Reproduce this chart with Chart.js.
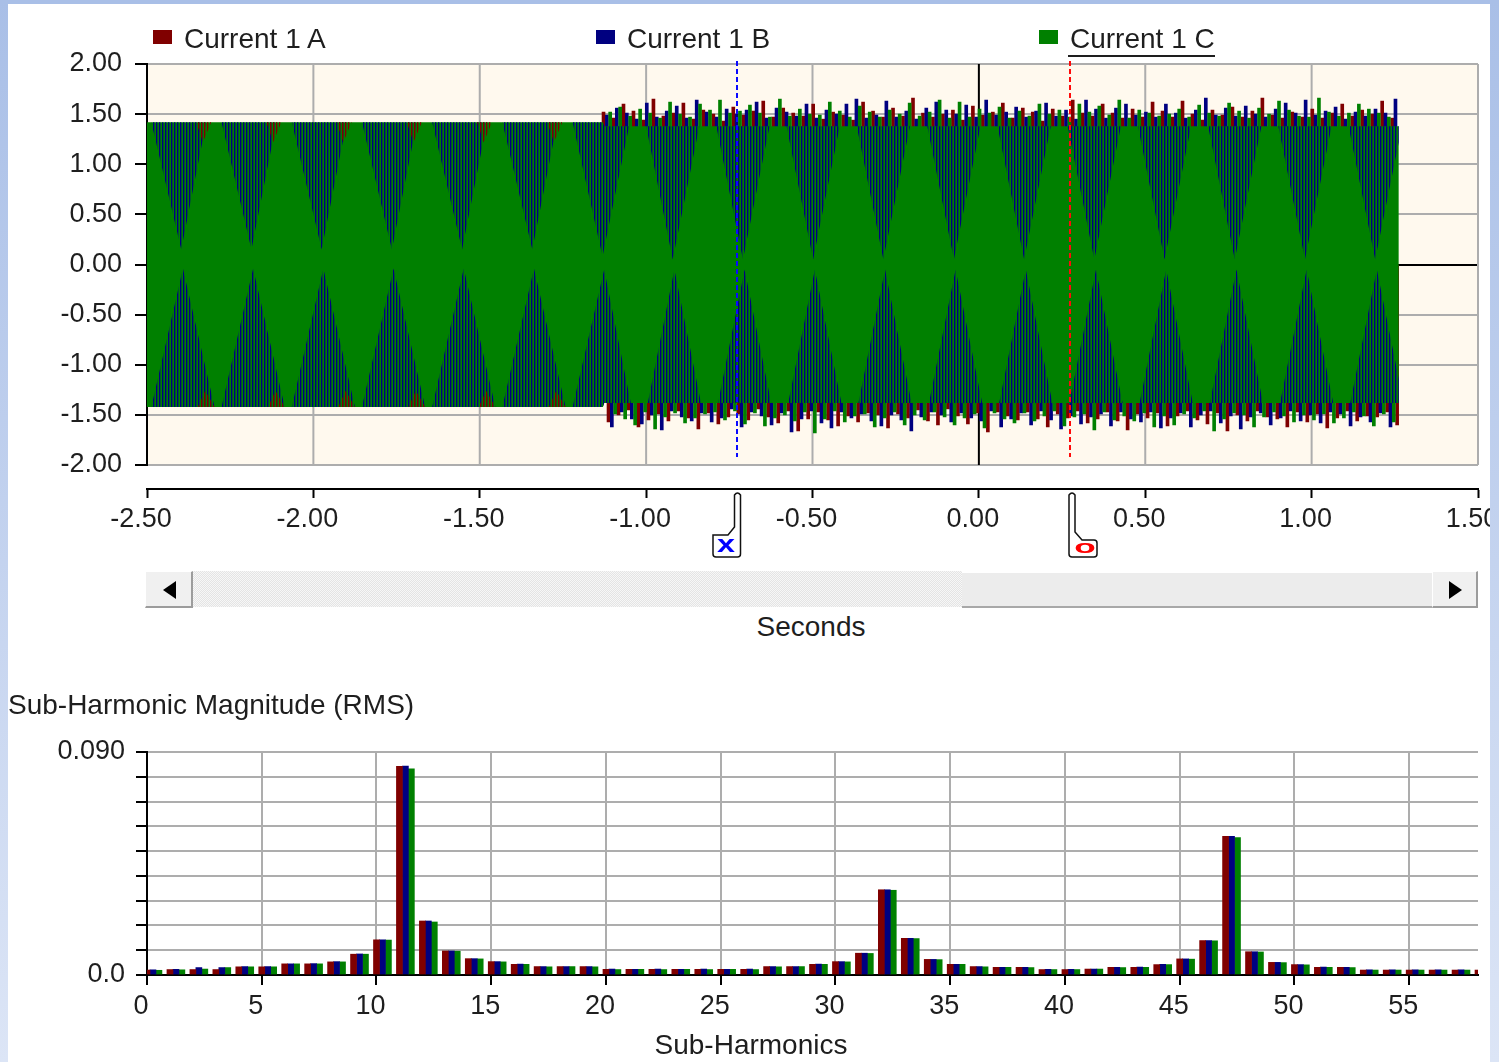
<!DOCTYPE html>
<html>
<head>
<meta charset="utf-8">
<title>Current 1 - waveform and sub-harmonics</title>
<script src="https://cdn.jsdelivr.net/npm/chart.js@4.4.1/dist/chart.umd.min.js"></script>
<style>
  html, body { margin: 0; padding: 0; width: 1499px; height: 1062px; overflow: hidden; background: #fff;
    font-family: "Liberation Sans", Arial, sans-serif; color: #1e1e1e; }
  canvas { position: absolute; left: 0; }
  #wave { top: 0; }
  #spec { top: 700px; }
  .txt { position: absolute; font-size: 28px; line-height: 28px; white-space: nowrap; }
  .sw { position: absolute; width: 19px; height: 14px; }
  .frame { position: absolute; z-index: 10; }
  .sb { position: absolute; box-sizing: border-box; }
</style>
</head>
<body>
<canvas id="wave" width="1580" height="564"></canvas>
<canvas id="spec" width="1580" height="362"></canvas>

<!-- legend -->
<div class="sw" style="left:153px;top:30px;background:#800000"></div>
<div class="txt" id="legA" style="left:184px;top:25px"></div>
<div class="sw" style="left:596px;top:30px;background:#000080"></div>
<div class="txt" id="legB" style="left:627px;top:25px"></div>
<div class="sw" style="left:1039px;top:30px;background:#008000"></div>
<div class="txt" id="legC" style="left:1068px;top:25px;padding:0 0 2px 2px;border-bottom:2px solid #1e1e1e"></div>

<!-- horizontal scroll bar under the time axis -->
<div class="sb" style="left:145px;top:571px;width:48px;height:37px;background:#f0f0f0;border-right:2px solid #9c9c9c;border-bottom:2px solid #9c9c9c;border-top:1px solid #fff;border-left:1px solid #fff">
  <div style="position:absolute;left:17px;top:9px;width:0;height:0;border-top:9px solid transparent;border-bottom:9px solid transparent;border-right:13px solid #000"></div>
</div>
<div class="sb" style="left:193px;top:571px;width:769px;height:36px;background-color:#f4f4f4;background-image:repeating-conic-gradient(#e4e4e4 0 25%, #f7f7f7 0 50%);background-size:2px 2px"></div>
<div class="sb" style="left:962px;top:573px;width:470px;height:35px;background:#ececec;border-bottom:2px solid #a8a8a8"></div>
<div class="sb" style="left:1432px;top:571px;width:46px;height:37px;background:#f0f0f0;border-right:2px solid #9c9c9c;border-bottom:2px solid #9c9c9c;border-top:1px solid #fff;border-left:1px solid #fff">
  <div style="position:absolute;left:16px;top:9px;width:0;height:0;border-top:9px solid transparent;border-bottom:9px solid transparent;border-left:13px solid #000"></div>
</div>

<div class="txt" id="waveXTitle" style="left:661px;top:613px;width:300px;text-align:center"></div>
<div class="txt" id="specTitle" style="left:8px;top:691px"></div>
<div class="txt" id="specXTitle" style="left:601px;top:1031px;width:300px;text-align:center"></div>

<!-- window frame -->
<div class="frame" style="left:0;top:0;width:8px;height:1062px;background:linear-gradient(#a9bfe7,#dce5f6)"></div>
<div class="frame" style="left:1490px;top:0;width:9px;height:1062px;background:linear-gradient(#a9bfe7,#dce5f6)"></div>
<div class="frame" style="left:0;top:0;width:1499px;height:4px;background:#a9bfe7"></div>

<script>
// ---------------- captions ----------------
const legendLabels = ['Current 1 A', 'Current 1 B', 'Current 1 C'];
const waveAxisTitle = 'Seconds';
const spectrumTitle = 'Sub-Harmonic Magnitude (RMS)';
const spectrumAxisTitle = 'Sub-Harmonics';

// ---------------- waveform (per-unit current vs. seconds) ----------------
const timeTicks = [-2.5, -2.0, -1.5, -1.0, -0.5, 0.0, 0.5, 1.0, 1.5];
const ampTicks  = [-2.0, -1.5, -1.0, -0.5, 0.0, 0.5, 1.0, 1.5, 2.0];

// phase C band: steady part, then the disturbed part
const bandTime  = [-2.5, -1.130, -1.126, 1.262];
const bandUpper = [1.42, 1.42, 1.38, 1.38];
const bandLower = [-1.42, -1.42, -1.38, -1.38];

// phase B crossings showing through phase C (upper and lower halves)
const crossTopTime = [
  -2.487, -2.397, -2.322,  -2.276, -2.186, -2.111,  -2.065, -1.975, -1.900,
  -1.854, -1.764, -1.689,  -1.643, -1.553, -1.478,  -1.432, -1.342, -1.267,
  -1.221, -1.131, -1.051,  -1.000, -0.920, -0.840,  -0.789, -0.709, -0.629,
  -0.578, -0.498, -0.418,  -0.367, -0.287, -0.207,  -0.155, -0.075, 0.005,
   0.056,  0.136,  0.216,   0.267,  0.347,  0.427,   0.478,  0.558,  0.638,
   0.689,  0.769,  0.849,   0.900,  0.980,  1.060,   1.111,  1.191,  1.262
];
const crossTopValue = [
  1.42, 0.15, 1.42,  1.42, 0.15, 1.42,  1.42, 0.15, 1.42,
  1.42, 0.15, 1.42,  1.42, 0.15, 1.42,  1.42, 0.15, 1.42,
  1.42, 0.08, 1.38,  1.38, 0.05, 1.38,  1.38, 0.05, 1.38,
  1.38, 0.05, 1.38,  1.38, 0.05, 1.38,  1.38, 0.05, 1.38,
  1.38, 0.05, 1.38,  1.38, 0.05, 1.38,  1.38, 0.05, 1.38,
  1.38, 0.05, 1.38,  1.38, 0.05, 1.38,  1.38, 0.05, 1.22
];
const crossBottomTime = [
  -2.487, -2.392, -2.297,  -2.276, -2.181, -2.086,  -2.065, -1.970, -1.875,
  -1.854, -1.759, -1.664,  -1.643, -1.548, -1.453,  -1.432, -1.337, -1.242,
  -1.221, -1.126, -1.046,  -0.995, -0.915, -0.835,  -0.784, -0.704, -0.624,
  -0.573, -0.493, -0.413,  -0.362, -0.282, -0.202,  -0.150, -0.070, 0.010,
   0.061,  0.141,  0.221,   0.272,  0.352,  0.432,   0.483,  0.563,  0.643,
   0.694,  0.774,  0.854,   0.905,  0.985,  1.065,   1.116,  1.196,  1.262
];
const crossBottomValue = [
  -1.42, -0.04, -1.42,  -1.42, -0.04, -1.42,  -1.42, -0.04, -1.42,
  -1.42, -0.04, -1.42,  -1.42, -0.04, -1.42,  -1.42, -0.04, -1.42,
  -1.42, -0.05, -1.38,  -1.38, -0.05, -1.38,  -1.38, -0.05, -1.38,
  -1.38, -0.05, -1.38,  -1.38, -0.05, -1.38,  -1.38, -0.05, -1.38,
  -1.38, -0.05, -1.38,  -1.38, -0.05, -1.38,  -1.38, -0.05, -1.38,
  -1.38, -0.05, -1.38,  -1.38, -0.05, -1.38,  -1.38, -0.05, -1.14
];

// phase A peeking out at the band edges in the steady part
const edgeTopTime = [
  -2.352, -2.332, -2.307,  -2.141, -2.121, -2.096,  -1.930, -1.910, -1.885,
  -1.719, -1.699, -1.674,  -1.508, -1.488, -1.463,  -1.297, -1.277, -1.252
];
const edgeTopValue = [
  1.42, 1.22, 1.42,  1.42, 1.22, 1.42,  1.42, 1.22, 1.42,
  1.42, 1.22, 1.42,  1.42, 1.22, 1.42,  1.42, 1.22, 1.42
];
const edgeBottomTime = [
  -2.347, -2.325, -2.297,  -2.136, -2.114, -2.086,  -1.925, -1.903, -1.875,
  -1.714, -1.692, -1.664,  -1.503, -1.481, -1.453,  -1.292, -1.270, -1.242
];
const edgeBottomValue = [
  -1.42, -1.26, -1.42,  -1.42, -1.26, -1.42,  -1.42, -1.26, -1.42,
  -1.42, -1.26, -1.42,  -1.42, -1.26, -1.42,  -1.42, -1.26, -1.42
];

// disturbed part: successive sample peaks of each phase
const peakStep = 0.015;
const peakStartA = -1.128, peakStartB = -1.118, peakStartC = -1.108;
const peaksA = [
  1.52,-1.57,1.46,-1.50,1.60,-1.45,1.53,-1.62,1.44,-1.55,1.65,-1.49,1.48,-1.56,
  1.51,-1.46,1.61,-1.53,1.45,-1.64,1.54,-1.48,1.50,-1.59,1.43,-1.52,1.57,-1.49,
  1.49,-1.55,1.53,-1.44,1.63,-1.52,1.47,-1.58,1.56,-1.46,1.51,-1.66,1.48,-1.54,
  1.60,-1.47,1.45,-1.55,1.52,-1.61,1.49,-1.51,1.44,-1.57,1.62,-1.48,1.53,-1.50,
  1.47,-1.63,1.56,-1.49,1.48,-1.53,1.66,-1.45,1.51,-1.56,1.47,-1.60,1.50,-1.44,
  1.54,-1.51,1.44,-1.59,1.58,-1.48,1.49,-1.67,1.52,-1.47,1.61,-1.51,1.46,-1.55,
  1.56,-1.47,1.52,-1.54,1.43,-1.62,1.55,-1.49,1.48,-1.53,1.64,-1.46,1.51,-1.58,
  1.48,-1.54,1.60,-1.47,1.51,-1.56,1.46,-1.65,1.55,-1.49,1.47,-1.53,1.62,-1.48,
  1.53,-1.61,1.47,-1.51,1.63,-1.46,1.50,-1.55,1.44,-1.59,1.54,-1.48,1.49,-1.66,
  1.57,-1.50,1.47,-1.56,1.53,-1.46,1.66,-1.52,1.49,-1.54,1.46,-1.62,1.52,-1.47,
  1.47,-1.57,1.55,-1.49,1.46,-1.63,1.51,-1.53,1.60,-1.46,1.48,-1.56,1.54,-1.51,
  1.50,-1.52,1.63,-1.47,1.46,-1.60
];
const peaksB = [
  1.49,-1.62,1.56,-1.47,1.51,-1.54,1.45,-1.59,1.61,-1.50,1.47,-1.65,1.53,-1.46,
  1.58,-1.52,1.46,-1.56,1.64,-1.48,1.52,-1.57,1.47,-1.53,1.55,-1.44,1.50,-1.62,
  1.54,-1.47,1.62,-1.51,1.46,-1.60,1.56,-1.48,1.52,-1.67,1.48,-1.54,1.60,-1.46,
  1.46,-1.58,1.54,-1.63,1.50,-1.47,1.60,-1.53,1.65,-1.49,1.46,-1.56,1.49,-1.61,
  1.63,-1.50,1.47,-1.55,1.53,-1.66,1.45,-1.52,1.56,-1.47,1.62,-1.50,1.54,-1.57,
  1.50,-1.48,1.59,-1.53,1.47,-1.56,1.64,-1.46,1.49,-1.62,1.52,-1.54,1.57,-1.48,
  1.47,-1.60,1.53,-1.46,1.61,-1.55,1.48,-1.64,1.54,-1.51,1.45,-1.59,1.64,-1.52,
  1.55,-1.49,1.46,-1.61,1.56,-1.47,1.60,-1.54,1.49,-1.57,1.52,-1.47,1.47,-1.63,
  1.60,-1.53,1.51,-1.48,1.46,-1.62,1.54,-1.50,1.66,-1.46,1.49,-1.58,1.56,-1.51,
  1.48,-1.64,1.58,-1.52,1.50,-1.48,1.47,-1.60,1.55,-1.53,1.61,-1.46,1.51,-1.56,
  1.64,-1.50,1.49,-1.58,1.53,-1.47,1.57,-1.49,1.45,-1.61,1.52,-1.52,1.48,-1.57,
  1.55,-1.48,1.51,-1.62,1.65
];
const peaksC = [
  1.52,-1.49,1.57,-1.54,1.48,-1.60,1.55,-1.47,1.51,-1.64,1.46,-1.52,1.62,-1.48,
  1.50,-1.58,1.47,-1.53,1.60,-1.49,1.54,-1.47,1.64,-1.55,1.51,-1.46,1.53,-1.59,
  1.59,-1.48,1.51,-1.61,1.47,-1.53,1.65,-1.50,1.48,-1.56,1.55,-1.47,1.50,-1.68,
  1.49,-1.54,1.62,-1.46,1.53,-1.57,1.47,-1.51,1.58,-1.49,1.52,-1.62,1.47,-1.53,
  1.54,-1.47,1.50,-1.60,1.61,-1.50,1.48,-1.55,1.52,-1.47,1.64,-1.52,1.46,-1.60,
  1.62,-1.53,1.47,-1.49,1.55,-1.63,1.51,-1.48,1.57,-1.54,1.46,-1.58,1.53,-1.48,
  1.48,-1.56,1.60,-1.51,1.50,-1.46,1.54,-1.61,1.47,-1.52,1.60,-1.49,1.52,-1.65,
  1.58,-1.47,1.49,-1.55,1.64,-1.51,1.46,-1.56,1.54,-1.48,1.51,-1.62,1.48,-1.51,
  1.50,-1.60,1.55,-1.49,1.47,-1.53,1.59,-1.46,1.51,-1.66,1.48,-1.54,1.61,-1.48,
  1.53,-1.50,1.46,-1.62,1.56,-1.52,1.50,-1.47,1.63,-1.51,1.54,-1.57,1.48,-1.50,
  1.47,-1.55,1.66,-1.49,1.52,-1.58,1.48,-1.53,1.51,-1.47,1.60,-1.51,1.55,-1.61,
  1.51,-1.49,1.47,-1.57
];

// measurement cursors (seconds)
const cursorX = -0.728;
const cursorO = 0.274;

// ---------------- sub-harmonic spectrum ----------------
const harmonicTicks = [0, 5, 10, 15, 20, 25, 30, 35, 40, 45, 50, 55];
const magTicks = [0, 0.01, 0.02, 0.03, 0.04, 0.05, 0.06, 0.07, 0.08, 0.09];
const magTickLabels = ['0.0', '', '', '', '', '', '', '', '', '0.090'];
const subOrder = [
  0, 1, 2, 3, 4, 5, 6, 7, 8, 9, 10, 11, 12, 13, 14, 15, 16, 17, 18, 19,
  20, 21, 22, 23, 24, 25, 26, 27, 28, 29, 30, 31, 32, 33, 34, 35, 36, 37, 38, 39,
  40, 41, 42, 43, 44, 45, 46, 47, 48, 49, 50, 51, 52, 53, 54, 55, 56, 57, 58
];
const subA = [
  0.0020,0.0022,0.0022,0.0022,0.0033,0.0033,0.0045,0.0045,0.0053,0.0084,
  0.0142,0.0842,0.0218,0.0097,0.0066,0.0054,0.0043,0.0034,0.0034,0.0034,
  0.0023,0.0023,0.0023,0.0023,0.0023,0.0023,0.0023,0.0034,0.0034,0.0043,
  0.0054,0.0088,0.0344,0.0148,0.0063,0.0043,0.0034,0.0031,0.0031,0.0022,
  0.0022,0.0024,0.0031,0.0031,0.0042,0.0065,0.0139,0.0560,0.0094,0.0051,
  0.0042,0.0031,0.0031,0.0020,0.0020,0.0020,0.0020,0.0020,0.0020
];
const subB = [
  0.0021,0.0023,0.0030,0.0030,0.0034,0.0034,0.0045,0.0046,0.0054,0.0085,
  0.0142,0.0843,0.0218,0.0097,0.0066,0.0054,0.0044,0.0034,0.0034,0.0034,
  0.0024,0.0023,0.0024,0.0023,0.0024,0.0023,0.0024,0.0034,0.0034,0.0044,
  0.0054,0.0088,0.0344,0.0148,0.0063,0.0043,0.0034,0.0031,0.0031,0.0023,
  0.0023,0.0024,0.0031,0.0032,0.0043,0.0065,0.0139,0.0560,0.0094,0.0051,
  0.0042,0.0032,0.0031,0.0021,0.0021,0.0021,0.0021,0.0021,0.0021
];
const subC = [
  0.0019,0.0021,0.0024,0.0030,0.0033,0.0033,0.0045,0.0045,0.0053,0.0084,
  0.0141,0.0832,0.0214,0.0096,0.0065,0.0053,0.0043,0.0033,0.0034,0.0033,
  0.0022,0.0023,0.0022,0.0023,0.0022,0.0023,0.0022,0.0033,0.0034,0.0043,
  0.0053,0.0087,0.0342,0.0147,0.0062,0.0043,0.0033,0.0031,0.0030,0.0022,
  0.0022,0.0024,0.0030,0.0031,0.0042,0.0064,0.0138,0.0555,0.0093,0.0050,
  0.0041,0.0031,0.0030,0.0020,0.0020,0.0020,0.0020,0.0020,0.0020
];

// ---------------- styling ----------------
const COL_A = '#800000', COL_B = '#000080', COL_C = '#008000';
const GRID = '#adadad', INK = '#1e1e1e', PLOT_BG = '#fff9ee';
const FONT = '"Liberation Sans", Arial, sans-serif';
Chart.defaults.font.family = FONT;
Chart.defaults.font.size = 27;
Chart.defaults.color = INK;

document.getElementById('legA').textContent = legendLabels[0];
document.getElementById('legB').textContent = legendLabels[1];
document.getElementById('legC').textContent = legendLabels[2];
document.getElementById('waveXTitle').textContent = waveAxisTitle;
document.getElementById('specTitle').textContent = spectrumTitle;
document.getElementById('specXTitle').textContent = spectrumAxisTitle;

const xy = (xs, ys) => xs.map((x, i) => ({ x, y: ys[i] }));
const sampled = (start, vals) => vals.map((v, i) => ({ x: +(start + i * peakStep).toFixed(4), y: v }));

const waveCanvas = document.getElementById('wave');
const waveCtx = waveCanvas.getContext('2d');

// vertical hatching used for the phase traces seen through phase C
function hatch(color) {
  const c = document.createElement('canvas');
  c.width = 3; c.height = 1;
  const g = c.getContext('2d');
  g.fillStyle = color;
  g.fillRect(0, 0, 1, 1);
  g.globalAlpha = 0.35;
  g.fillRect(1, 0, 1, 1);
  return waveCtx.createPattern(c, 'repeat');
}

const noLine = { borderColor: 'rgba(0,0,0,0)', borderWidth: 0, pointRadius: 0, pointHoverRadius: 0, tension: 0 };
const BAND_UPPER_INDEX = 3;
const BAND_LOWER_INDEX = 4;

// plot panel: cream background, vertical grid, left axis line, cursors and their tags
const wavePanel = {
  id: 'wavePanel',
  beforeDraw(chart) {
    const { ctx, scales: { x, y } } = chart;
    const l = x.getPixelForValue(timeTicks[0]), r = x.getPixelForValue(timeTicks[timeTicks.length - 1]);
    const t = y.getPixelForValue(ampTicks[ampTicks.length - 1]), b = y.getPixelForValue(ampTicks[0]);
    ctx.save();
    ctx.fillStyle = PLOT_BG;
    ctx.fillRect(l, t, r - l, b - t);
    ctx.restore();
  },
  beforeDatasetsDraw(chart) {
    const { ctx, scales: { x, y } } = chart;
    const t = y.getPixelForValue(ampTicks[ampTicks.length - 1]), b = y.getPixelForValue(ampTicks[0]);
    ctx.save();
    ctx.lineWidth = 2;
    timeTicks.slice(1).forEach(v => {
      const px = x.getPixelForValue(v);
      ctx.strokeStyle = v === 0 ? '#000' : GRID;
      ctx.beginPath(); ctx.moveTo(px, t); ctx.lineTo(px, b); ctx.stroke();
    });
    const lx = x.getPixelForValue(timeTicks[0]);
    ctx.strokeStyle = '#000';
    ctx.beginPath(); ctx.moveTo(lx, t - 1); ctx.lineTo(lx, b + 1); ctx.stroke();
    ctx.restore();
  },
  afterDatasetsDraw(chart) {
    const { ctx, scales: { x, y } } = chart;
    const t = y.getPixelForValue(ampTicks[ampTicks.length - 1]), b = y.getPixelForValue(ampTicks[0]);
    ctx.save();
    ctx.lineWidth = 2;
    ctx.setLineDash([5, 3]);
    [[cursorX, '#0a0aff'], [cursorO, '#ff0a0a']].forEach(([v, col]) => {
      const px = Math.round(x.getPixelForValue(v));
      ctx.strokeStyle = col;
      ctx.beginPath(); ctx.moveTo(px, t - 3); ctx.lineTo(px, b - 8); ctx.stroke();
    });
    ctx.restore();
  },
  afterDraw(chart) {
    const { ctx, scales: { x } } = chart;
    const yb = chart.chartArea.bottom;
    ctx.save();
    ctx.lineWidth = 1.5;
    ctx.strokeStyle = '#111';
    ctx.fillStyle = '#fff';
    // cursor X tag: stem with box to the left
    let cx = Math.round(x.getPixelForValue(cursorX));
    ctx.beginPath();
    ctx.moveTo(cx - 2.5, yb + 6);
    ctx.quadraticCurveTo(cx + 0.5, yb + 2, cx + 3.5, yb + 6);
    ctx.lineTo(cx + 3.5, yb + 65);
    ctx.quadraticCurveTo(cx + 3.5, yb + 68, cx + 0.5, yb + 68);
    ctx.lineTo(cx - 21, yb + 68);
    ctx.quadraticCurveTo(cx - 24, yb + 68, cx - 24, yb + 65);
    ctx.lineTo(cx - 24, yb + 46);
    ctx.lineTo(cx - 9, yb + 46);
    ctx.lineTo(cx - 2.5, yb + 38);
    ctx.closePath();
    ctx.fill(); ctx.stroke();
    ctx.fillStyle = '#0000ff';
    ctx.font = 'bold 24px ' + FONT;
    ctx.textAlign = 'center'; ctx.textBaseline = 'middle';
    ctx.save(); ctx.translate(cx - 11, yb + 56); ctx.scale(1.35, 1); ctx.fillText('x', 0, 0); ctx.restore();
    // cursor O tag: stem with box to the right
    cx = Math.round(x.getPixelForValue(cursorO));
    ctx.fillStyle = '#fff';
    ctx.beginPath();
    ctx.moveTo(cx - 1, yb + 6);
    ctx.quadraticCurveTo(cx + 2, yb + 2, cx + 5, yb + 6);
    ctx.lineTo(cx + 5, yb + 43);
    ctx.lineTo(cx + 12, yb + 51);
    ctx.lineTo(cx + 24, yb + 51);
    ctx.quadraticCurveTo(cx + 27, yb + 51, cx + 27, yb + 54);
    ctx.lineTo(cx + 27, yb + 65);
    ctx.quadraticCurveTo(cx + 27, yb + 68, cx + 24, yb + 68);
    ctx.lineTo(cx + 2, yb + 68);
    ctx.quadraticCurveTo(cx - 1, yb + 68, cx - 1, yb + 65);
    ctx.closePath();
    ctx.fill(); ctx.stroke();
    ctx.fillStyle = '#ff0000';
    ctx.font = 'bold 22px ' + FONT;
    ctx.save(); ctx.translate(cx + 15, yb + 59); ctx.scale(1.6, 0.85); ctx.fillText('o', 0, 0); ctx.restore();
    ctx.restore();
  }
};

const stemStyle = { type: 'bar', barThickness: 3, grouped: false, borderWidth: 0 };

new Chart(waveCtx, {
  type: 'line',
  data: {
    datasets: [
      { ...stemStyle, label: legendLabels[0], data: sampled(peakStartA, peaksA), backgroundColor: COL_A, order: 6 },
      { ...stemStyle, label: legendLabels[1], data: sampled(peakStartB, peaksB), backgroundColor: COL_B, order: 5 },
      { ...stemStyle, label: legendLabels[2], data: sampled(peakStartC, peaksC), backgroundColor: COL_C, order: 4 },
      { label: legendLabels[2] + ' band', data: xy(bandTime, bandUpper), fill: '+1', backgroundColor: COL_C, ...noLine, order: 3 },
      { label: legendLabels[2] + ' band low', data: xy(bandTime, bandLower), fill: false, ...noLine, order: 3 },
      { label: legendLabels[1] + ' upper', data: xy(crossTopTime, crossTopValue), fill: BAND_UPPER_INDEX,
        backgroundColor: hatch(COL_B), ...noLine, order: 2 },
      { label: legendLabels[1] + ' lower', data: xy(crossBottomTime, crossBottomValue), fill: BAND_LOWER_INDEX,
        backgroundColor: hatch(COL_B), ...noLine, order: 2 },
      { label: legendLabels[0] + ' upper', data: xy(edgeTopTime, edgeTopValue), fill: { value: bandUpper[0] },
        backgroundColor: hatch(COL_A), ...noLine, order: 1 },
      { label: legendLabels[0] + ' lower', data: xy(edgeBottomTime, edgeBottomValue), fill: { value: bandLower[0] },
        backgroundColor: hatch(COL_A), ...noLine, order: 1 }
    ]
  },
  options: {
    responsive: false,
    animation: false,
    events: [],
    layout: { padding: { top: 64, right: 102, left: 0, bottom: 0 } },
    plugins: { legend: { display: false }, tooltip: { enabled: false } },
    scales: {
      x: {
        type: 'linear', min: timeTicks[0], max: timeTicks[timeTicks.length - 1], offset: false,
        afterBuildTicks: s => { s.ticks = timeTicks.map(v => ({ value: v })); },
        afterFit: s => { s.height = 75; },
        ticks: { callback: v => v.toFixed(2), labelOffset: -6, padding: 5, maxRotation: 0, autoSkip: false },
        grid: { drawOnChartArea: false, tickLength: 9, tickColor: '#000', tickWidth: 2, offset: false },
        border: { display: true, color: '#000', width: 2 }
      },
      y: {
        type: 'linear', min: -2.239, max: ampTicks[ampTicks.length - 1],
        afterBuildTicks: s => { s.ticks = ampTicks.map(v => ({ value: v })); },
        afterFit: s => { s.width = 147; },
        ticks: { callback: v => v.toFixed(2), padding: 13, autoSkip: false },
        grid: { color: c => (c.tick && c.tick.value === 0 ? '#000' : GRID), lineWidth: 2,
                tickLength: 12, tickColor: '#000', tickWidth: 2 },
        border: { display: false }
      }
    }
  },
  plugins: [wavePanel]
});

// ---------------- spectrum chart ----------------
const barStyle = { barThickness: 6, grouped: false, borderWidth: 0 };
new Chart(document.getElementById('spec').getContext('2d'), {
  type: 'bar',
  data: {
    datasets: [
      { label: legendLabels[0], data: xy(subOrder, subA), backgroundColor: COL_A, xAxisID: 'x', ...barStyle },
      { label: legendLabels[1], data: xy(subOrder, subB), backgroundColor: COL_B, xAxisID: 'xB', ...barStyle },
      { label: legendLabels[2], data: xy(subOrder, subC), backgroundColor: COL_C, xAxisID: 'xC', ...barStyle }
    ]
  },
  options: {
    responsive: false,
    animation: false,
    events: [],
    layout: { padding: { top: 52, right: 102, left: 0, bottom: 0 } },
    plugins: { legend: { display: false }, tooltip: { enabled: false } },
    scales: {
      x: {
        type: 'linear', min: 0, max: 58, offset: false,
        afterBuildTicks: s => { s.ticks = harmonicTicks.map(v => ({ value: v })); },
        afterFit: s => { s.height = 87; },
        ticks: { callback: v => String(v), labelOffset: -6, padding: 5, maxRotation: 0, autoSkip: false },
        grid: { color: GRID, lineWidth: 2, tickLength: 10, tickColor: '#000', tickWidth: 2, offset: false },
        border: { display: true, color: '#000', width: 2 }
      },
      // the B and C bars sit one and two bar widths to the right of A
      xB: { type: 'linear', display: false, min: -0.26, max: 57.74, offset: false },
      xC: { type: 'linear', display: false, min: -0.52, max: 57.48, offset: false },
      y: {
        type: 'linear', min: 0, max: magTicks[magTicks.length - 1],
        afterBuildTicks: s => { s.ticks = magTicks.map(v => ({ value: v })); },
        afterFit: s => { s.width = 147; },
        ticks: { callback: (v, i) => magTickLabels[i], padding: 11, autoSkip: false },
        grid: { color: GRID, lineWidth: 2, tickLength: 11, tickColor: '#000', tickWidth: 2 },
        border: { display: true, color: '#000', width: 2 }
      }
    }
  }
});
</script>
</body>
</html>
